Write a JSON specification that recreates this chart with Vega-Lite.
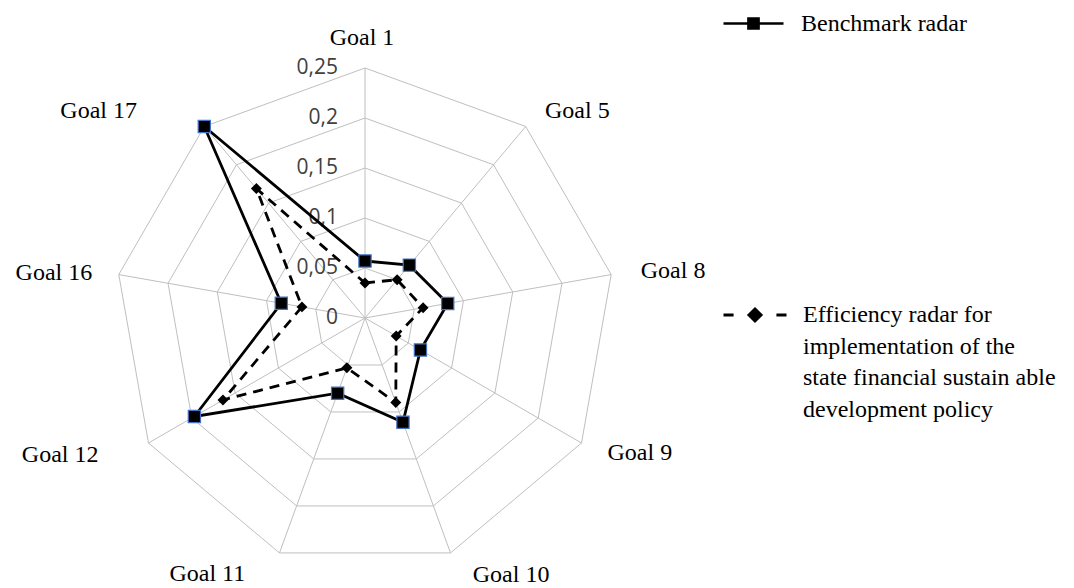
{
  "$schema": "https://vega.github.io/schema/vega-lite/v6.json",
  "width": 1074,
  "height": 588,
  "autosize": {"type": "none"},
  "padding": 0,
  "background": "white",
  "config": {"view": {"stroke": null}, "style": {"guide-label": {"lineHeight": 31.5}}},
  "datasets": {
    "goals": [
      {"i": 0, "goal": "Goal 1"},
      {"i": 1, "goal": "Goal 5"},
      {"i": 2, "goal": "Goal 8"},
      {"i": 3, "goal": "Goal 9"},
      {"i": 4, "goal": "Goal 10"},
      {"i": 5, "goal": "Goal 11"},
      {"i": 6, "goal": "Goal 12"},
      {"i": 7, "goal": "Goal 16"},
      {"i": 8, "goal": "Goal 17"}
    ],
    "levels": [
      {"level": 0, "label": "0", "i": [0, 1, 2, 3, 4, 5, 6, 7, 8]},
      {"level": 0.05, "label": "0,05", "i": [0, 1, 2, 3, 4, 5, 6, 7, 8]},
      {"level": 0.1, "label": "0,1", "i": [0, 1, 2, 3, 4, 5, 6, 7, 8]},
      {"level": 0.15, "label": "0,15", "i": [0, 1, 2, 3, 4, 5, 6, 7, 8]},
      {"level": 0.2, "label": "0,2", "i": [0, 1, 2, 3, 4, 5, 6, 7, 8]},
      {"level": 0.25, "label": "0,25", "i": [0, 1, 2, 3, 4, 5, 6, 7, 8]}
    ],
    "scores": [
      {"goal": "Goal 1", "i": 0, "series": "Benchmark radar", "value": 0.057},
      {"goal": "Goal 5", "i": 1, "series": "Benchmark radar", "value": 0.069},
      {"goal": "Goal 8", "i": 2, "series": "Benchmark radar", "value": 0.084},
      {"goal": "Goal 9", "i": 3, "series": "Benchmark radar", "value": 0.064},
      {"goal": "Goal 10", "i": 4, "series": "Benchmark radar", "value": 0.111},
      {"goal": "Goal 11", "i": 5, "series": "Benchmark radar", "value": 0.08},
      {"goal": "Goal 12", "i": 6, "series": "Benchmark radar", "value": 0.197},
      {"goal": "Goal 16", "i": 7, "series": "Benchmark radar", "value": 0.085},
      {"goal": "Goal 17", "i": 8, "series": "Benchmark radar", "value": 0.25},
      {"goal": "Goal 1", "i": 0, "series": "Efficiency radar for implementation of the state financial sustain able development policy", "value": 0.035},
      {"goal": "Goal 5", "i": 1, "series": "Efficiency radar for implementation of the state financial sustain able development policy", "value": 0.05},
      {"goal": "Goal 8", "i": 2, "series": "Efficiency radar for implementation of the state financial sustain able development policy", "value": 0.059},
      {"goal": "Goal 9", "i": 3, "series": "Efficiency radar for implementation of the state financial sustain able development policy", "value": 0.036},
      {"goal": "Goal 10", "i": 4, "series": "Efficiency radar for implementation of the state financial sustain able development policy", "value": 0.09},
      {"goal": "Goal 11", "i": 5, "series": "Efficiency radar for implementation of the state financial sustain able development policy", "value": 0.053},
      {"goal": "Goal 12", "i": 6, "series": "Efficiency radar for implementation of the state financial sustain able development policy", "value": 0.164},
      {"goal": "Goal 16", "i": 7, "series": "Efficiency radar for implementation of the state financial sustain able development policy", "value": 0.064},
      {"goal": "Goal 17", "i": 8, "series": "Efficiency radar for implementation of the state financial sustain able development policy", "value": 0.169}
    ]
  },
  "layer": [
    {
      "data": {"name": "levels"},
      "transform": [
        {"filter": "datum.level > 0"},
        {"flatten": ["i"]},
        {"calculate": "datum.i * 2 * PI / 9", "as": "a"},
        {"calculate": "datum.level * sin(datum.a)", "as": "px"},
        {"calculate": "datum.level * cos(datum.a)", "as": "py"}
      ],
      "mark": {"type": "line", "interpolate": "linear-closed", "stroke": "#bfbfbf", "strokeWidth": 1},
      "encoding": {
        "x": {"field": "px", "type": "quantitative", "scale": {"domain": [-0.365, 0.709], "nice": false, "zero": false}, "axis": null},
        "y": {"field": "py", "type": "quantitative", "scale": {"domain": [-0.27, 0.318], "nice": false, "zero": false}, "axis": null},
        "detail": {"field": "level", "type": "nominal"},
        "order": {"field": "i", "type": "quantitative"}
      }
    },
    {
      "data": {"name": "goals"},
      "transform": [
        {"calculate": "datum.i * 2 * PI / 9", "as": "a"},
        {"calculate": "0.25 * sin(datum.a)", "as": "px"},
        {"calculate": "0.25 * cos(datum.a)", "as": "py"}
      ],
      "mark": {"type": "rule", "stroke": "#bfbfbf", "strokeWidth": 1},
      "encoding": {
        "x": {"field": "px", "type": "quantitative"},
        "y": {"field": "py", "type": "quantitative"},
        "x2": {"datum": 0},
        "y2": {"datum": 0}
      }
    },
    {
      "data": {"name": "levels"},
      "mark": {"type": "text", "align": "right", "baseline": "middle", "dx": -27, "font": "Open Sans", "fontSize": 21, "color": "#404040"},
      "encoding": {
        "x": {"datum": 0, "type": "quantitative"},
        "y": {"field": "level", "type": "quantitative"},
        "text": {"field": "label", "type": "nominal"}
      }
    },
    {
      "data": {"name": "scores"},
      "transform": [
        {"filter": "datum.series == 'Benchmark radar'"},
        {"calculate": "datum.i * 2 * PI / 9", "as": "a"},
        {"calculate": "datum.value * sin(datum.a)", "as": "px"},
        {"calculate": "datum.value * cos(datum.a)", "as": "py"}
      ],
      "mark": {"type": "line", "interpolate": "linear-closed", "stroke": "black", "strokeWidth": 2.8},
      "encoding": {
        "x": {"field": "px", "type": "quantitative"},
        "y": {"field": "py", "type": "quantitative"},
        "order": {"field": "i", "type": "quantitative"}
      }
    },
    {
      "data": {"name": "scores"},
      "transform": [
        {"filter": "datum.series != 'Benchmark radar'"},
        {"calculate": "datum.i * 2 * PI / 9", "as": "a"},
        {"calculate": "datum.value * sin(datum.a)", "as": "px"},
        {"calculate": "datum.value * cos(datum.a)", "as": "py"}
      ],
      "mark": {"type": "line", "interpolate": "linear-closed", "stroke": "black", "strokeWidth": 2.8, "strokeDash": [10, 7]},
      "encoding": {
        "x": {"field": "px", "type": "quantitative"},
        "y": {"field": "py", "type": "quantitative"},
        "order": {"field": "i", "type": "quantitative"}
      }
    },
    {
      "data": {"name": "scores"},
      "transform": [
        {"filter": "datum.series == 'Benchmark radar'"},
        {"calculate": "datum.i * 2 * PI / 9", "as": "a"},
        {"calculate": "datum.value * sin(datum.a)", "as": "px"},
        {"calculate": "datum.value * cos(datum.a)", "as": "py"}
      ],
      "mark": {"type": "point", "shape": "square", "filled": true, "fill": "black", "stroke": "#4472c4", "strokeWidth": 1.2, "size": 150, "opacity": 1},
      "encoding": {
        "x": {"field": "px", "type": "quantitative"},
        "y": {"field": "py", "type": "quantitative"}
      }
    },
    {
      "data": {"name": "scores"},
      "transform": [
        {"filter": "datum.series != 'Benchmark radar'"},
        {"calculate": "datum.i * 2 * PI / 9", "as": "a"},
        {"calculate": "datum.value * sin(datum.a)", "as": "px"},
        {"calculate": "datum.value * cos(datum.a)", "as": "py"}
      ],
      "mark": {"type": "point", "shape": "diamond", "filled": true, "fill": "black", "size": 120, "opacity": 1},
      "encoding": {
        "x": {"field": "px", "type": "quantitative"},
        "y": {"field": "py", "type": "quantitative"}
      }
    },
    {
      "data": {"name": "scores"},
      "transform": [{"filter": "false"}],
      "mark": {"type": "point", "filled": true, "fill": "black", "stroke": "black", "strokeWidth": 2.5, "opacity": 1},
      "encoding": {
        "shape": {
          "field": "series",
          "type": "nominal",
          "scale": {"domain": ["Benchmark radar"], "range": ["M-1,0H1M-0.17,-0.17H0.17V0.17H-0.17Z"]},
          "legend": {
            "orient": "none",
            "legendX": 722,
            "legendY": -8,
            "title": null,
            "padding": 0,
            "labelFont": "Liberation Serif",
            "labelFontSize": 24,
            "labelColor": "black",
            "labelOffset": 16,
            "labelLimit": 0,
            "symbolSize": 3600,
            "symbolStrokeWidth": 2.5,
            "symbolOpacity": 1
          }
        }
      }
    },
    {
      "data": {"name": "scores"},
      "transform": [{"filter": "false"}],
      "mark": {"type": "point", "filled": true, "fill": "black", "stroke": "black", "strokeWidth": 3, "opacity": 1},
      "encoding": {
        "shape": {
          "field": "series",
          "type": "nominal",
          "scale": {"domain": ["Efficiency radar for implementation of the state financial sustain able development policy"], "range": ["M-1,0H-0.68M0.68,0H1M0,-0.19L0.19,0L0,0.19L-0.19,0Z"]},
          "legend": {
            "orient": "none",
            "legendX": 722,
            "legendY": 282,
            "title": null,
            "padding": 0,
            "labelFont": "Liberation Serif",
            "labelFontSize": 24,
            "labelColor": "black",
            "labelOffset": 15,
            "labelLimit": 0,
            "labelExpr": "['Efficiency radar for', 'implementation of the', 'state financial sustain able', 'development policy']",
            "symbolSize": 3969,
            "symbolStrokeWidth": 3,
            "symbolOpacity": 1
          }
        }
      }
    },
    {
      "data": {"name": "goals"},
      "transform": [
        {"calculate": "datum.i * 2 * PI / 9", "as": "a"},
        {"filter": "abs(sin(datum.a)) < 0.3"},
        {"calculate": "0.28 * sin(datum.a)", "as": "lx"},
        {"calculate": "0.27 * cos(datum.a)", "as": "ly"}
      ],
      "mark": {"type": "text", "align": "center", "baseline": "middle", "dy": -10, "dx": -3, "font": "Liberation Serif", "fontSize": 24, "color": "black"},
      "encoding": {
        "x": {"field": "lx", "type": "quantitative"},
        "y": {"field": "ly", "type": "quantitative"},
        "text": {"field": "goal", "type": "nominal"}
      }
    },
    {
      "data": {"name": "goals"},
      "transform": [
        {"calculate": "datum.i * 2 * PI / 9", "as": "a"},
        {"filter": "sin(datum.a) >= 0.3 && cos(datum.a) > -0.9"},
        {"calculate": "0.28 * sin(datum.a)", "as": "lx"},
        {"calculate": "0.27 * cos(datum.a)", "as": "ly"}
      ],
      "mark": {"type": "text", "align": "left", "baseline": "middle", "font": "Liberation Serif", "fontSize": 24, "color": "black"},
      "encoding": {
        "x": {"field": "lx", "type": "quantitative"},
        "y": {"field": "ly", "type": "quantitative"},
        "text": {"field": "goal", "type": "nominal"}
      }
    },
    {
      "data": {"name": "goals"},
      "transform": [
        {"calculate": "datum.i * 2 * PI / 9", "as": "a"},
        {"filter": "sin(datum.a) >= 0.3 && cos(datum.a) <= -0.9"},
        {"calculate": "0.28 * sin(datum.a)", "as": "lx"},
        {"calculate": "0.27 * cos(datum.a)", "as": "ly"}
      ],
      "mark": {"type": "text", "align": "left", "baseline": "middle", "dx": 12, "dy": 3, "font": "Liberation Serif", "fontSize": 24, "color": "black"},
      "encoding": {
        "x": {"field": "lx", "type": "quantitative"},
        "y": {"field": "ly", "type": "quantitative"},
        "text": {"field": "goal", "type": "nominal"}
      }
    },
    {
      "data": {"name": "goals"},
      "transform": [
        {"calculate": "datum.i * 2 * PI / 9", "as": "a"},
        {"filter": "sin(datum.a) <= -0.3 && abs(cos(datum.a)) < 0.3"},
        {"calculate": "0.28 * sin(datum.a)", "as": "lx"},
        {"calculate": "0.27 * cos(datum.a)", "as": "ly"}
      ],
      "mark": {"type": "text", "align": "right", "baseline": "middle", "dx": 3, "dy": 2, "font": "Liberation Serif", "fontSize": 24, "color": "black"},
      "encoding": {
        "x": {"field": "lx", "type": "quantitative"},
        "y": {"field": "ly", "type": "quantitative"},
        "text": {"field": "goal", "type": "nominal"}
      }
    },
    {
      "data": {"name": "goals"},
      "transform": [
        {"calculate": "datum.i * 2 * PI / 9", "as": "a"},
        {"filter": "sin(datum.a) <= -0.3 && cos(datum.a) < -0.3"},
        {"calculate": "0.28 * sin(datum.a)", "as": "lx"},
        {"calculate": "0.27 * cos(datum.a)", "as": "ly"}
      ],
      "mark": {"type": "text", "align": "right", "baseline": "middle", "dx": -24, "dy": 2, "font": "Liberation Serif", "fontSize": 24, "color": "black"},
      "encoding": {
        "x": {"field": "lx", "type": "quantitative"},
        "y": {"field": "ly", "type": "quantitative"},
        "text": {"field": "goal", "type": "nominal"}
      }
    },
    {
      "data": {"name": "goals"},
      "transform": [
        {"calculate": "datum.i * 2 * PI / 9", "as": "a"},
        {"filter": "sin(datum.a) <= -0.3 && cos(datum.a) > 0.3"},
        {"calculate": "0.28 * sin(datum.a)", "as": "lx"},
        {"calculate": "0.27 * cos(datum.a)", "as": "ly"}
      ],
      "mark": {"type": "text", "align": "right", "baseline": "middle", "dx": -48, "font": "Liberation Serif", "fontSize": 24, "color": "black"},
      "encoding": {
        "x": {"field": "lx", "type": "quantitative"},
        "y": {"field": "ly", "type": "quantitative"},
        "text": {"field": "goal", "type": "nominal"}
      }
    }
  ],
  "resolve": {"scale": {"shape": "independent"}, "legend": {"shape": "independent"}}
}
